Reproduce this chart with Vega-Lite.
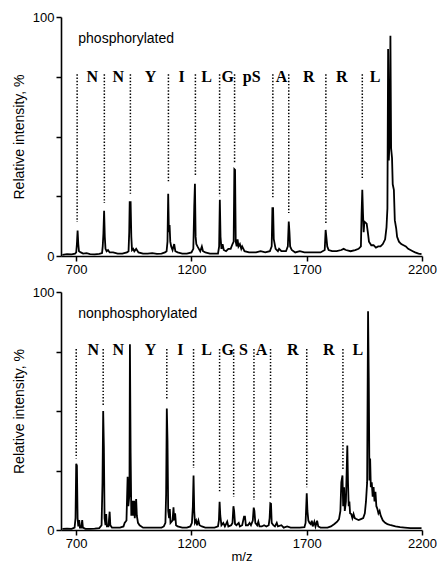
{
  "$schema": "https://vega.github.io/schema/vega-lite/v6.json",
  "padding": {"left": 12, "top": 11, "right": 0, "bottom": 0},
  "spacing": 10,
  "config": {
    "view": {"stroke": null},
    "font": "Liberation Sans",
    "axis": {
      "domainColor": "black", "domainWidth": 1.6, "tickColor": "black", "tickWidth": 1.5, "tickSize": 5,
      "labelColor": "black", "labelFont": "Liberation Sans", "labelFontSize": 13, "labelPadding": 2,
      "titleColor": "black", "titleFont": "Liberation Sans", "titleFontSize": 14, "titleFontWeight": "normal",
      "grid": false, "labelFlush": false, "format": "d"
    }
  },
  "datasets": {
    "phos": [
      {"mz":640,"v":0.5},{"mz":660,"v":0.8},{"mz":680,"v":0.7},{"mz":695,"v":1},{"mz":700,"v":1.5},{"mz":703,"v":5},{"mz":706,"v":10.6},{"mz":709,"v":5},{"mz":712,"v":2},{"mz":720,"v":1.5},{"mz":730,"v":1},{"mz":745,"v":1.2},{"mz":760,"v":0.8},{"mz":780,"v":0.7},{"mz":800,"v":0.9},{"mz":812,"v":1.2},{"mz":815,"v":4},{"mz":818,"v":9.5},{"mz":821,"v":18.9},{"mz":824,"v":8},{"mz":827,"v":3},{"mz":832,"v":2},{"mz":838,"v":2.5},{"mz":845,"v":1.5},{"mz":860,"v":1.5},{"mz":880,"v":1},{"mz":900,"v":1},{"mz":920,"v":1.5},{"mz":927,"v":2},{"mz":930,"v":10},{"mz":932,"v":22.5},{"mz":936,"v":22.5},{"mz":939,"v":8},{"mz":942,"v":2.5},{"mz":947,"v":3},{"mz":952,"v":2},{"mz":960,"v":3},{"mz":970,"v":1.5},{"mz":990,"v":1},{"mz":1010,"v":1},{"mz":1030,"v":1.2},{"mz":1050,"v":0.9},{"mz":1070,"v":1},{"mz":1085,"v":1.5},{"mz":1092,"v":2},{"mz":1096,"v":6},{"mz":1099,"v":26},{"mz":1102,"v":10},{"mz":1105,"v":13},{"mz":1108,"v":6},{"mz":1112,"v":4},{"mz":1118,"v":2.5},{"mz":1125,"v":5},{"mz":1130,"v":2},{"mz":1140,"v":1.5},{"mz":1160,"v":1},{"mz":1180,"v":1},{"mz":1200,"v":1.5},{"mz":1208,"v":3},{"mz":1212,"v":20.7},{"mz":1215,"v":30.2},{"mz":1218,"v":8},{"mz":1221,"v":5},{"mz":1226,"v":4},{"mz":1232,"v":3},{"mz":1238,"v":2},{"mz":1245,"v":4},{"mz":1250,"v":2},{"mz":1260,"v":1.5},{"mz":1280,"v":1},{"mz":1300,"v":1},{"mz":1315,"v":1},{"mz":1320,"v":4},{"mz":1323,"v":23.5},{"mz":1326,"v":8},{"mz":1330,"v":3},{"mz":1335,"v":5},{"mz":1340,"v":2.5},{"mz":1350,"v":2},{"mz":1360,"v":3},{"mz":1370,"v":3},{"mz":1378,"v":5},{"mz":1383,"v":6},{"mz":1386,"v":36.3},{"mz":1389,"v":36},{"mz":1392,"v":6},{"mz":1396,"v":4},{"mz":1400,"v":7},{"mz":1404,"v":4},{"mz":1410,"v":5},{"mz":1416,"v":3},{"mz":1420,"v":4},{"mz":1430,"v":2},{"mz":1450,"v":1.5},{"mz":1480,"v":1.5},{"mz":1500,"v":2},{"mz":1520,"v":1.5},{"mz":1540,"v":2},{"mz":1548,"v":4},{"mz":1551,"v":20},{"mz":1554,"v":20},{"mz":1557,"v":7},{"mz":1561,"v":5},{"mz":1565,"v":3},{"mz":1575,"v":2},{"mz":1580,"v":3},{"mz":1590,"v":2},{"mz":1610,"v":2},{"mz":1618,"v":4},{"mz":1622,"v":14.4},{"mz":1625,"v":10},{"mz":1628,"v":4},{"mz":1635,"v":2.5},{"mz":1650,"v":1.5},{"mz":1670,"v":2},{"mz":1690,"v":1.5},{"mz":1710,"v":1.5},{"mz":1730,"v":1.5},{"mz":1760,"v":1.5},{"mz":1778,"v":2.5},{"mz":1782,"v":10.9},{"mz":1785,"v":8},{"mz":1789,"v":4},{"mz":1795,"v":2.5},{"mz":1810,"v":2},{"mz":1830,"v":2},{"mz":1850,"v":2.5},{"mz":1860,"v":3},{"mz":1870,"v":2.5},{"mz":1890,"v":2},{"mz":1910,"v":2.5},{"mz":1925,"v":3},{"mz":1935,"v":4},{"mz":1938,"v":18},{"mz":1941,"v":27.7},{"mz":1944,"v":17.9},{"mz":1947,"v":10},{"mz":1950,"v":14.4},{"mz":1955,"v":14},{"mz":1960,"v":13.5},{"mz":1965,"v":10},{"mz":1970,"v":6},{"mz":1980,"v":4.5},{"mz":1990,"v":4.5},{"mz":2000,"v":3.5},{"mz":2010,"v":4},{"mz":2020,"v":4},{"mz":2030,"v":5},{"mz":2040,"v":7},{"mz":2046,"v":12},{"mz":2050,"v":20},{"mz":2053,"v":86.6},{"mz":2056,"v":40},{"mz":2060,"v":50},{"mz":2063,"v":92.2},{"mz":2066,"v":45},{"mz":2070,"v":41},{"mz":2073,"v":30},{"mz":2078,"v":27.7},{"mz":2082,"v":15},{"mz":2088,"v":11.6},{"mz":2092,"v":8},{"mz":2100,"v":6},{"mz":2110,"v":5},{"mz":2120,"v":4.5},{"mz":2130,"v":4},{"mz":2140,"v":3},{"mz":2150,"v":2.5},{"mz":2160,"v":2},{"mz":2170,"v":1.5},{"mz":2185,"v":1},{"mz":2198,"v":0.8}
    ],
    "nonphos": [
      {"mz":640,"v":0.5},{"mz":660,"v":0.6},{"mz":680,"v":0.5},{"mz":693,"v":1},{"mz":697,"v":5},{"mz":700,"v":27.8},{"mz":703,"v":27},{"mz":706,"v":5},{"mz":709,"v":1.5},{"mz":713,"v":4.2},{"mz":716,"v":1},{"mz":722,"v":1},{"mz":726,"v":4.2},{"mz":729,"v":1},{"mz":740,"v":0.5},{"mz":760,"v":0.5},{"mz":780,"v":0.6},{"mz":800,"v":0.8},{"mz":810,"v":2},{"mz":814,"v":20},{"mz":817,"v":50},{"mz":820,"v":34.8},{"mz":823,"v":5},{"mz":827,"v":2},{"mz":830,"v":6.7},{"mz":833,"v":1.5},{"mz":840,"v":1.5},{"mz":845,"v":7.7},{"mz":848,"v":2},{"mz":855,"v":1},{"mz":870,"v":1},{"mz":890,"v":1},{"mz":905,"v":1.5},{"mz":910,"v":3},{"mz":918,"v":4},{"mz":923,"v":22.4},{"mz":926,"v":10},{"mz":931,"v":15},{"mz":933,"v":78},{"mz":936,"v":32.7},{"mz":939,"v":6},{"mz":944,"v":12.3},{"mz":947,"v":6},{"mz":951,"v":12.3},{"mz":954,"v":5},{"mz":960,"v":13},{"mz":963,"v":6},{"mz":968,"v":3},{"mz":975,"v":2},{"mz":990,"v":1},{"mz":1010,"v":1},{"mz":1030,"v":1},{"mz":1050,"v":1},{"mz":1070,"v":1},{"mz":1080,"v":1.5},{"mz":1087,"v":3},{"mz":1090,"v":15},{"mz":1093,"v":51},{"mz":1096,"v":37.6},{"mz":1099,"v":8},{"mz":1103,"v":5},{"mz":1106,"v":8.8},{"mz":1109,"v":3},{"mz":1118,"v":4},{"mz":1122,"v":9.5},{"mz":1125,"v":4},{"mz":1129,"v":7},{"mz":1133,"v":2},{"mz":1140,"v":1.5},{"mz":1160,"v":1},{"mz":1180,"v":1},{"mz":1195,"v":1.5},{"mz":1202,"v":3},{"mz":1206,"v":10},{"mz":1209,"v":22.9},{"mz":1212,"v":8},{"mz":1215,"v":3},{"mz":1220,"v":4},{"mz":1224,"v":2},{"mz":1230,"v":4},{"mz":1235,"v":2},{"mz":1245,"v":1.5},{"mz":1260,"v":1},{"mz":1280,"v":1},{"mz":1300,"v":1},{"mz":1315,"v":1.5},{"mz":1319,"v":4},{"mz":1322,"v":11.9},{"mz":1325,"v":6},{"mz":1330,"v":2},{"mz":1338,"v":3},{"mz":1345,"v":1.5},{"mz":1355,"v":3.5},{"mz":1360,"v":1.5},{"mz":1372,"v":2},{"mz":1378,"v":3},{"mz":1382,"v":10},{"mz":1385,"v":8},{"mz":1389,"v":2.5},{"mz":1395,"v":2},{"mz":1405,"v":3},{"mz":1410,"v":1.5},{"mz":1420,"v":2},{"mz":1428,"v":5.6},{"mz":1432,"v":5.6},{"mz":1436,"v":2},{"mz":1445,"v":2},{"mz":1452,"v":3},{"mz":1458,"v":2},{"mz":1466,"v":4},{"mz":1470,"v":9.4},{"mz":1473,"v":8},{"mz":1477,"v":3},{"mz":1485,"v":2},{"mz":1490,"v":3.5},{"mz":1495,"v":1.5},{"mz":1505,"v":1.5},{"mz":1515,"v":2},{"mz":1525,"v":1.5},{"mz":1535,"v":2},{"mz":1539,"v":5},{"mz":1542,"v":11.2},{"mz":1545,"v":11},{"mz":1548,"v":3},{"mz":1555,"v":2},{"mz":1562,"v":1.5},{"mz":1570,"v":3},{"mz":1575,"v":1.5},{"mz":1590,"v":2},{"mz":1600,"v":1},{"mz":1615,"v":1.5},{"mz":1630,"v":1},{"mz":1650,"v":1},{"mz":1670,"v":1},{"mz":1690,"v":1.2},{"mz":1695,"v":3},{"mz":1700,"v":15.4},{"mz":1703,"v":8},{"mz":1707,"v":4},{"mz":1712,"v":3},{"mz":1717,"v":2.5},{"mz":1722,"v":3.9},{"mz":1726,"v":1.5},{"mz":1733,"v":3.5},{"mz":1738,"v":1.5},{"mz":1745,"v":3.9},{"mz":1750,"v":1.5},{"mz":1760,"v":1},{"mz":1775,"v":1},{"mz":1790,"v":1},{"mz":1805,"v":1.5},{"mz":1820,"v":2.5},{"mz":1832,"v":3.5},{"mz":1840,"v":4.6},{"mz":1846,"v":8},{"mz":1850,"v":20},{"mz":1855,"v":22.9},{"mz":1858,"v":10},{"mz":1862,"v":18},{"mz":1865,"v":8},{"mz":1870,"v":12},{"mz":1876,"v":35.5},{"mz":1879,"v":20},{"mz":1882,"v":10},{"mz":1885,"v":12},{"mz":1888,"v":7},{"mz":1893,"v":6.7},{"mz":1898,"v":5},{"mz":1903,"v":6.7},{"mz":1908,"v":5},{"mz":1915,"v":4.6},{"mz":1925,"v":4.2},{"mz":1935,"v":4.6},{"mz":1945,"v":5},{"mz":1952,"v":7},{"mz":1957,"v":12},{"mz":1962,"v":20},{"mz":1966,"v":91.9},{"mz":1969,"v":64},{"mz":1972,"v":20.8},{"mz":1975,"v":30},{"mz":1978,"v":18},{"mz":1982,"v":20},{"mz":1986,"v":14},{"mz":1990,"v":18},{"mz":1994,"v":12},{"mz":1998,"v":16},{"mz":2002,"v":10},{"mz":2006,"v":9},{"mz":2011,"v":7},{"mz":2016,"v":8},{"mz":2021,"v":6},{"mz":2030,"v":4},{"mz":2040,"v":3},{"mz":2050,"v":2.5},{"mz":2065,"v":2},{"mz":2085,"v":1.5},{"mz":2105,"v":1.2},{"mz":2125,"v":1},{"mz":2150,"v":0.8},{"mz":2180,"v":0.8},{"mz":2198,"v":0.8}
    ],
    "phosLines": [
      {"mz":704,"top":76,"bot":14.2},{"mz":822,"top":76,"bot":22.2},{"mz":935,"top":76,"bot":26},{"mz":1100,"top":76,"bot":30.5},{"mz":1217,"top":76,"bot":33.9},{"mz":1322,"top":76,"bot":25},{"mz":1387,"top":76,"bot":39},{"mz":1553,"top":76,"bot":24.3},{"mz":1622,"top":76,"bot":18},{"mz":1783,"top":76,"bot":13.8},{"mz":1941,"top":76,"bot":32.6}
    ],
    "nonLines": [
      {"mz":700,"top":76,"bot":30},{"mz":817,"top":76,"bot":52},{"mz":1093,"top":76,"bot":55},{"mz":1209,"top":76,"bot":26},{"mz":1322,"top":76,"bot":16},{"mz":1383,"top":76,"bot":14},{"mz":1471,"top":76,"bot":12.6},{"mz":1543,"top":76,"bot":13.5},{"mz":1700,"top":76,"bot":18},{"mz":1857,"top":76,"bot":25}
    ],
    "phosLetters": [
      {"mz":770,"t":"N"},{"mz":883,"t":"N"},{"mz":1022,"t":"Y"},{"mz":1157,"t":"I"},{"mz":1265,"t":"L"},{"mz":1357,"t":"G"},{"mz":1461,"t":"pS"},{"mz":1591,"t":"A"},{"mz":1709,"t":"R"},{"mz":1852,"t":"R"},{"mz":1996,"t":"L"}
    ],
    "nonLetters": [
      {"mz":774,"t":"N"},{"mz":883,"t":"N"},{"mz":1022,"t":"Y"},{"mz":1152,"t":"I"},{"mz":1265,"t":"L"},{"mz":1357,"t":"G"},{"mz":1426,"t":"S"},{"mz":1504,"t":"A"},{"mz":1639,"t":"R"},{"mz":1796,"t":"R"},{"mz":1922,"t":"L"}
    ],
    "phosLabel": [{"mz":709,"v":90.8,"t":"phosphorylated"}],
    "nonLabel": [{"mz":709,"v":90.7,"t":"nonphosphorylated"}]
  },
  "vconcat": [
    {
      "width": 361, "height": 239,
      "layer": [
        {
          "data": {"name": "phos"},
          "mark": {"type": "line", "color": "black", "strokeWidth": 1.8, "clip": true},
          "encoding": {
            "x": {"field": "mz", "type": "quantitative", "scale": {"domain": [634, 2200], "nice": false, "zero": false},
                  "axis": {"values": [700, 1200, 1700, 2200], "title": null}},
            "y": {"field": "v", "type": "quantitative", "scale": {"domain": [0, 100], "nice": false},
                  "axis": {"values": [0, 25, 50, 75, 100], "labelExpr": "datum.value == 0 || datum.value == 100 ? datum.label : ''", "title": "Relative intensity, %", "titlePadding": 6}}
          }
        },
        {
          "data": {"name": "phosLines"},
          "mark": {"type": "rule", "color": "black", "strokeWidth": 1.5, "strokeDash": [1.4, 1.8]},
          "encoding": {
            "x": {"field": "mz", "type": "quantitative"},
            "y": {"field": "top", "type": "quantitative"},
            "y2": {"field": "bot"}
          }
        },
        {
          "data": {"name": "phosLetters"},
          "mark": {"type": "text", "font": "Liberation Serif", "fontWeight": "bold", "fontSize": 16, "baseline": "middle", "align": "center", "color": "black"},
          "encoding": {
            "x": {"field": "mz", "type": "quantitative"},
            "y": {"datum": 75},
            "text": {"field": "t"}
          }
        },
        {
          "data": {"name": "phosLabel"},
          "mark": {"type": "text", "font": "Liberation Sans", "fontSize": 14, "baseline": "middle", "align": "left", "color": "black"},
          "encoding": {
            "x": {"field": "mz", "type": "quantitative"},
            "y": {"field": "v", "type": "quantitative"},
            "text": {"field": "t"}
          }
        }
      ]
    },
    {
      "width": 361, "height": 238,
      "layer": [
        {
          "data": {"name": "nonphos"},
          "mark": {"type": "line", "color": "black", "strokeWidth": 1.8, "clip": true},
          "encoding": {
            "x": {"field": "mz", "type": "quantitative", "scale": {"domain": [634, 2200], "nice": false, "zero": false},
                  "axis": {"values": [700, 1200, 1700, 2200], "title": "m/z", "titlePadding": 0, "titleFontSize": 13}},
            "y": {"field": "v", "type": "quantitative", "scale": {"domain": [0, 100], "nice": false},
                  "axis": {"values": [0, 25, 50, 75, 100], "labelExpr": "datum.value == 0 || datum.value == 100 ? datum.label : ''", "title": "Relative intensity, %", "titlePadding": 6}}
          }
        },
        {
          "data": {"name": "nonLines"},
          "mark": {"type": "rule", "color": "black", "strokeWidth": 1.5, "strokeDash": [1.4, 1.8]},
          "encoding": {
            "x": {"field": "mz", "type": "quantitative"},
            "y": {"field": "top", "type": "quantitative"},
            "y2": {"field": "bot"}
          }
        },
        {
          "data": {"name": "nonLetters"},
          "mark": {"type": "text", "font": "Liberation Serif", "fontWeight": "bold", "fontSize": 16, "baseline": "middle", "align": "center", "color": "black"},
          "encoding": {
            "x": {"field": "mz", "type": "quantitative"},
            "y": {"datum": 75.5},
            "text": {"field": "t"}
          }
        },
        {
          "data": {"name": "nonLabel"},
          "mark": {"type": "text", "font": "Liberation Sans", "fontSize": 14, "baseline": "middle", "align": "left", "color": "black"},
          "encoding": {
            "x": {"field": "mz", "type": "quantitative"},
            "y": {"field": "v", "type": "quantitative"},
            "text": {"field": "t"}
          }
        }
      ]
    }
  ]
}
